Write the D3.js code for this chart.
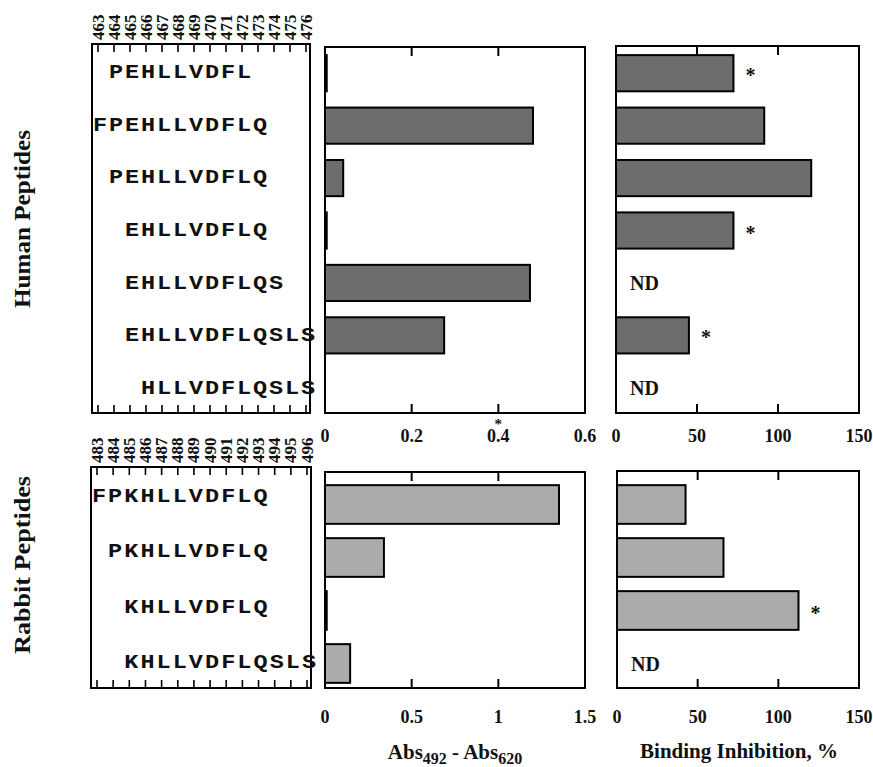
<!DOCTYPE html>
<html><head><meta charset="utf-8">
<script src="https://cdn.jsdelivr.net/npm/d3@7"></script>
<style>
html,body{margin:0;padding:0;background:#fff;}
svg{display:block;}
</style></head>
<body>
<svg id="chart" width="873" height="767"></svg>
<script>
// ---------------- data ----------------
const humanPeptides = ["PEHLLVDFL","FPEHLLVDFLQ","PEHLLVDFLQ","EHLLVDFLQ","EHLLVDFLQS","EHLLVDFLQSLS","HLLVDFLQSLS"];
const humanStart = [464,463,464,465,465,465,466];
const humanAbs = [0.004,0.48,0.042,0.004,0.473,0.275,0];
const humanInhib = [72.5,91.5,120.5,72.5,null,45,null];
const humanStar = [true,false,false,true,false,true,false];

const rabbitPeptides = ["FPKHLLVDFLQ","PKHLLVDFLQ","KHLLVDFLQ","KHLLVDFLQSLS"];
const rabbitStart = [483,484,485,485];
const rabbitAbs = [1.35,0.34,0.01,0.145];
const rabbitInhib = [42.5,66,112.5,null];
const rabbitStar = [false,false,true,false];

const humanResidues = [463,464,465,466,467,468,469,470,471,472,473,474,475,476];
const rabbitResidues = [483,484,485,486,487,488,489,490,491,492,493,494,495,496];

const absTicksHuman = [0,0.2,0.4,0.6];
const absTicksRabbit = [0,0.5,1,1.5];
const inhibTicks = [0,50,100,150];
const starredTick = 0.4;   // stray asterisk printed over this tick label

const groupLabels = ["Human Peptides","Rabbit Peptides"];
const xTitleAbs = ["Abs","492"," - Abs","620"];
const xTitleInhib = "Binding Inhibition, %";

// ---------------- drawing ----------------
const svg = d3.select("#chart");
const serif = "'Liberation Serif','Times New Roman',serif";
const mono = "'Liberation Mono','Courier New',monospace";
const darkFill = "#6d6d6d", lightFill = "#ababab";

function seqBox(g, peptides, starts, residues, box) {
  const xr = d3.scalePoint().domain(residues).range([box.x0 + 6, box.x1 - 4]);
  const yb = d3.scaleBand().domain(d3.range(peptides.length)).range([box.y0, box.y1]);
  g.append("rect").attr("x", box.x0).attr("y", box.y0)
    .attr("width", box.x1 - box.x0).attr("height", box.y1 - box.y0)
    .attr("fill", "none").attr("stroke", "#000").attr("stroke-width", 2);
  residues.forEach(r => {
    g.append("line").attr("x1", xr(r)).attr("x2", xr(r)).attr("y1", box.y0).attr("y2", box.y0 + 8)
      .attr("stroke", "#000").attr("stroke-width", 1.6);
    g.append("line").attr("x1", xr(r)).attr("x2", xr(r)).attr("y1", box.y1).attr("y2", box.y1 - 8)
      .attr("stroke", "#000").attr("stroke-width", 1.6);
    g.append("text").attr("transform", `translate(${xr(r) + 5.5},${box.y0 - 4}) rotate(-90)`)
      .attr("font-family", serif).attr("font-weight", "bold").attr("font-size", 17)
      .attr("fill", "#111").text(r);
  });
  peptides.forEach((p, i) => {
    const cy = yb(i) + yb.bandwidth() / 2;
    p.split("").forEach((ch, k) => {
      g.append("text").attr("transform", `translate(${xr(starts[i] + k) + 2},${cy + 7.5}) scale(1.12,1)`)
        .attr("text-anchor", "middle").attr("font-family", mono).attr("font-weight", "bold")
        .attr("font-size", 21).attr("fill", "#111").text(ch);
    });
  });
}

function barPanel(g, values, stars, ticks, box, fill, showND, starTick) {
  const x = d3.scaleLinear().domain([ticks[0], ticks[ticks.length - 1]]).range([box.x0, box.x1]);
  const y = d3.scaleBand().domain(d3.range(values.length)).range([box.by0, box.by1]).paddingInner(box.pad).paddingOuter(box.pad / 2);
  const yc = d3.scaleBand().domain(d3.range(values.length)).range([box.by0, box.by1]);
  values.forEach((v, i) => {
    if (v === null) {
      if (showND) {
        g.append("text").attr("x", x(0) + 14).attr("y", yc(i) + yc.bandwidth() / 2 + 7)
          .attr("font-family", serif).attr("font-weight", "bold").attr("font-size", 20)
          .attr("fill", "#111").text("ND");
      }
      return;
    }
    if (v <= 0) return;
    g.append("rect").attr("x", x(0)).attr("y", y(i))
      .attr("width", x(v) - x(0)).attr("height", y.bandwidth())
      .attr("fill", fill).attr("stroke", "#000").attr("stroke-width", 2);
    if (stars[i]) {
      g.append("text").attr("x", x(v) + 17).attr("y", y(i) + y.bandwidth() / 2 + 9)
        .attr("text-anchor", "middle").attr("font-family", serif).attr("font-weight", "bold")
        .attr("font-size", 20).attr("fill", "#111").text("*");
    }
  });
  g.append("rect").attr("x", box.x0).attr("y", box.y0)
    .attr("width", box.x1 - box.x0).attr("height", box.y1 - box.y0)
    .attr("fill", "none").attr("stroke", "#000").attr("stroke-width", 2);
  ticks.slice(1, -1).forEach(t => {
    g.append("line").attr("x1", x(t)).attr("x2", x(t)).attr("y1", box.y0).attr("y2", box.y0 + 9)
      .attr("stroke", "#000").attr("stroke-width", 2);
    g.append("line").attr("x1", x(t)).attr("x2", x(t)).attr("y1", box.y1).attr("y2", box.y1 - 9)
      .attr("stroke", "#000").attr("stroke-width", 2);
  });
  ticks.forEach(t => {
    const lab = g.append("text").attr("x", x(t)).attr("y", box.labelY)
      .attr("text-anchor", "middle").attr("font-family", serif).attr("font-weight", "bold")
      .attr("font-size", 18).attr("fill", "#111");
    if (t === starTick) {
      lab.append("tspan").attr("x", x(t)).attr("y", box.labelY - 13).attr("font-size", 15).text("*");
      lab.append("tspan").attr("x", x(t)).attr("y", box.labelY).text(d3.format("~g")(t));
    } else {
      lab.text(d3.format("~g")(t));
    }
  });
  return x;
}

const gTop = svg.append("g"), gBot = svg.append("g");

seqBox(gTop, humanPeptides, humanStart, humanResidues, {x0: 92, x1: 310, y0: 44, y1: 413});
seqBox(gBot, rabbitPeptides, rabbitStart, rabbitResidues, {x0: 91, x1: 311, y0: 467, y1: 688});

barPanel(gTop, humanAbs, humanPeptides.map(() => false), absTicksHuman,
  {x0: 325, x1: 585, y0: 47, y1: 413, by0: 47, by1: 414, pad: 0.31, labelY: 442}, darkFill, false, starredTick);
barPanel(gTop, humanInhib, humanStar, inhibTicks,
  {x0: 616, x1: 859, y0: 46, y1: 413, by0: 47, by1: 414, pad: 0.31, labelY: 442}, darkFill, true, null);

barPanel(gBot, rabbitAbs, rabbitPeptides.map(() => false), absTicksRabbit,
  {x0: 325, x1: 585, y0: 472, y1: 688, by0: 478, by1: 690, pad: 0.27, labelY: 723}, lightFill, false, null);
barPanel(gBot, rabbitInhib, rabbitStar, inhibTicks,
  {x0: 617, x1: 859, y0: 471, y1: 688, by0: 478, by1: 690, pad: 0.27, labelY: 723}, lightFill, true, null);

// group labels
[[groupLabels[0], 219], [groupLabels[1], 565]].forEach(([t, cy]) => {
  svg.append("text").attr("transform", `translate(30,${cy}) rotate(-90)`)
    .attr("text-anchor", "middle").attr("font-family", serif).attr("font-weight", "bold")
    .attr("font-size", 23).attr("textLength", 178).attr("lengthAdjust", "spacingAndGlyphs")
    .attr("fill", "#111").text(t);
});

// axis titles
const tAbs = svg.append("text").attr("x", 455).attr("y", 759).attr("text-anchor", "middle")
  .attr("font-family", serif).attr("font-weight", "bold").attr("font-size", 21).attr("fill", "#111");
tAbs.append("tspan").text(xTitleAbs[0]);
tAbs.append("tspan").attr("font-size", 16).attr("dy", 5).text(xTitleAbs[1]);
tAbs.append("tspan").attr("dy", -5).text(xTitleAbs[2]);
tAbs.append("tspan").attr("font-size", 16).attr("dy", 5).text(xTitleAbs[3]);

svg.append("text").attr("x", 739).attr("y", 758).attr("text-anchor", "middle")
  .attr("font-family", serif).attr("font-weight", "bold").attr("font-size", 21)
  .attr("fill", "#111").text(xTitleInhib);
</script>
</body></html>
